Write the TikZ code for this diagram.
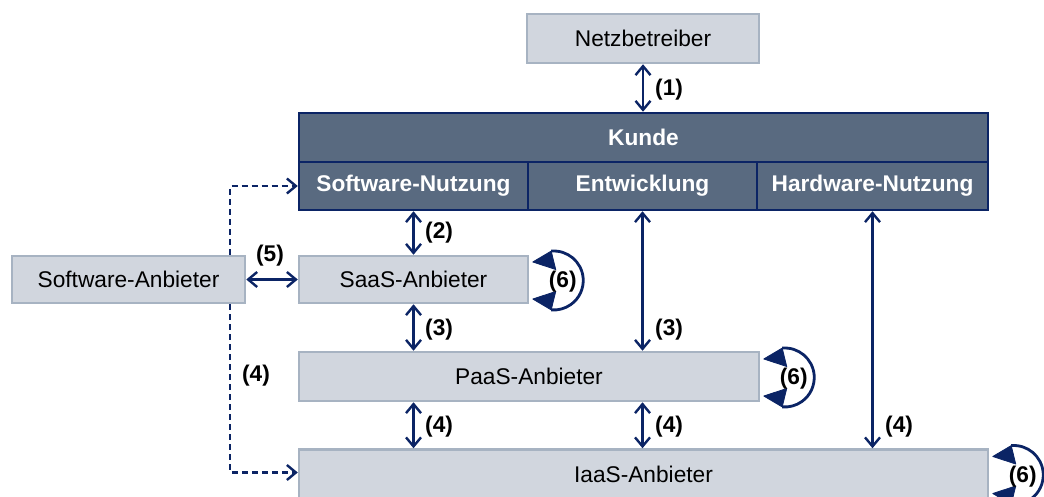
\documentclass[tikz,border=0pt]{standalone}
\usepackage{fontspec}
\setmainfont{Liberation Sans}
\usetikzlibrary{arrows.meta,calc}
\definecolor{navy}{HTML}{0B2465}
\definecolor{lightfill}{HTML}{D1D6DE}
\definecolor{lightborder}{HTML}{A7B3C2}
\definecolor{darkfill}{HTML}{596A80}
% self loop on the right side of node #1, label node named #2
\newcommand\drawselfloop[2]{%
  \coordinate (#2c) at ($(#1.east)+(24.5,-1)$);
  \draw[loopline] ($(#2c)+(95:29.5)$) arc[start angle=95, end angle=-95, radius=29.5];
  \fill[loophead] ($(#2c)+(-21,18.5)$) -- ($(#2c)+(95:29.5)$) -- ($(#2c)+(2,11)$) -- cycle;
  \fill[loophead] ($(#2c)+(-21,-18.5)$) -- ($(#2c)+(-95:29.5)$) -- ($(#2c)+(2,-11)$) -- cycle;
  \node[lab] (#2) at ($(#2c)+(9,-1.5)$) {(6)};
}
\begin{document}
\begin{tikzpicture}[x=1pt,y=1pt,
  font=\fontsize{22.7}{26}\selectfont,
  lbox/.style 2 args={draw=lightborder, fill=lightfill, line width=2.5pt,
    minimum width=#1, minimum height=#2, inner sep=0pt, text=black},
  dbox/.style 2 args={draw=navy, fill=darkfill, line width=2.5pt,
    minimum width=#1, minimum height=#2, inner sep=0pt, text=white, font=\fontsize{22.7}{26}\selectfont\bfseries},
  lab/.style={font=\fontsize{22.7}{26}\selectfont\bfseries, inner sep=0pt, text=black},
  conn/.style={draw=navy, line width=2.4pt,
    {Straight Barb[length=9pt,width=15pt]}-{Straight Barb[length=9pt,width=15pt]}},
  dconn/.style={draw=navy, line width=2.4pt, dash pattern=on 6pt off 4pt,
    -{Straight Barb[length=9pt,width=15pt]}},
  loopline/.style={draw=navy, line width=2.8pt},
  loophead/.style={fill=navy, draw=navy, line width=0.8pt, line join=round}
]
\useasboundingbox (0,-497) rectangle (1044,0);

% boxes
\node[lbox={232pt}{49pt}] (netz) at (643,-38.5) {Netzbetreiber};
\node[dbox={689pt}{49pt}] (kunde) at (643.5,-137.5) {Kunde};
\node[dbox={229pt}{48pt}] (sw) at (413.5,-186) {Software-Nutzung};
\node[dbox={229pt}{48pt}] (ent) at (642.5,-186) {Entwicklung};
\node[dbox={231pt}{48pt}] (hw) at (872.5,-186) {Hardware-Nutzung};
\node[lbox={233pt}{47pt}] (swa) at (128.5,-279.5) {Software-Anbieter};
\node[lbox={229pt}{47pt}] (saas) at (413.5,-279.5) {SaaS-Anbieter};
\node[lbox={460pt}{49pt}] (paas) at (529,-376.5) {PaaS-Anbieter};
\node[lbox={689pt}{49pt}] (iaas) at (643.5,-474) {IaaS-Anbieter};

% connectors
\draw[conn] (netz.south) -- (netz.south |- kunde.north);
\draw[conn] (sw.south) -- (saas.north);
\draw[conn] (saas.south) -- (saas.south |- paas.north);
\draw[conn] (ent.south) -- (ent.south |- paas.north);
\draw[conn] (saas.south |- paas.south) -- (saas.south |- iaas.north);
\draw[conn] (ent.south |- paas.south) -- (ent.south |- iaas.north);
\draw[conn] (hw.south) -- (hw.south |- iaas.north);
\draw[conn] (swa.east) -- (saas.west);
\draw[dconn] ([xshift=-16pt]swa.north east) |- (sw.west);
\draw[dconn] ([xshift=-16pt]swa.south east) |- ([yshift=1.5pt]iaas.west);

% self loops
\drawselfloop{saas}{l6a}
\drawselfloop{paas}{l6b}
\drawselfloop{iaas}{l6c}

% labels
\node[lab, anchor=west] (l1) at (655,-90) {(1)};
\node[lab, anchor=west] (l2) at (425,-233) {(2)};
\node[lab, anchor=west] (l3a) at (425,-330) {(3)};
\node[lab, anchor=west] (l3b) at (655,-330) {(3)};
\node[lab, anchor=west] (l4a) at (425,-427) {(4)};
\node[lab, anchor=west] (l4b) at (655,-427) {(4)};
\node[lab, anchor=west] (l4c) at (885,-427) {(4)};
\node[lab] (l5) at (270,-256) {(5)};
\node[lab] (l4d) at (256,-376) {(4)};
\end{tikzpicture}
\end{document}
